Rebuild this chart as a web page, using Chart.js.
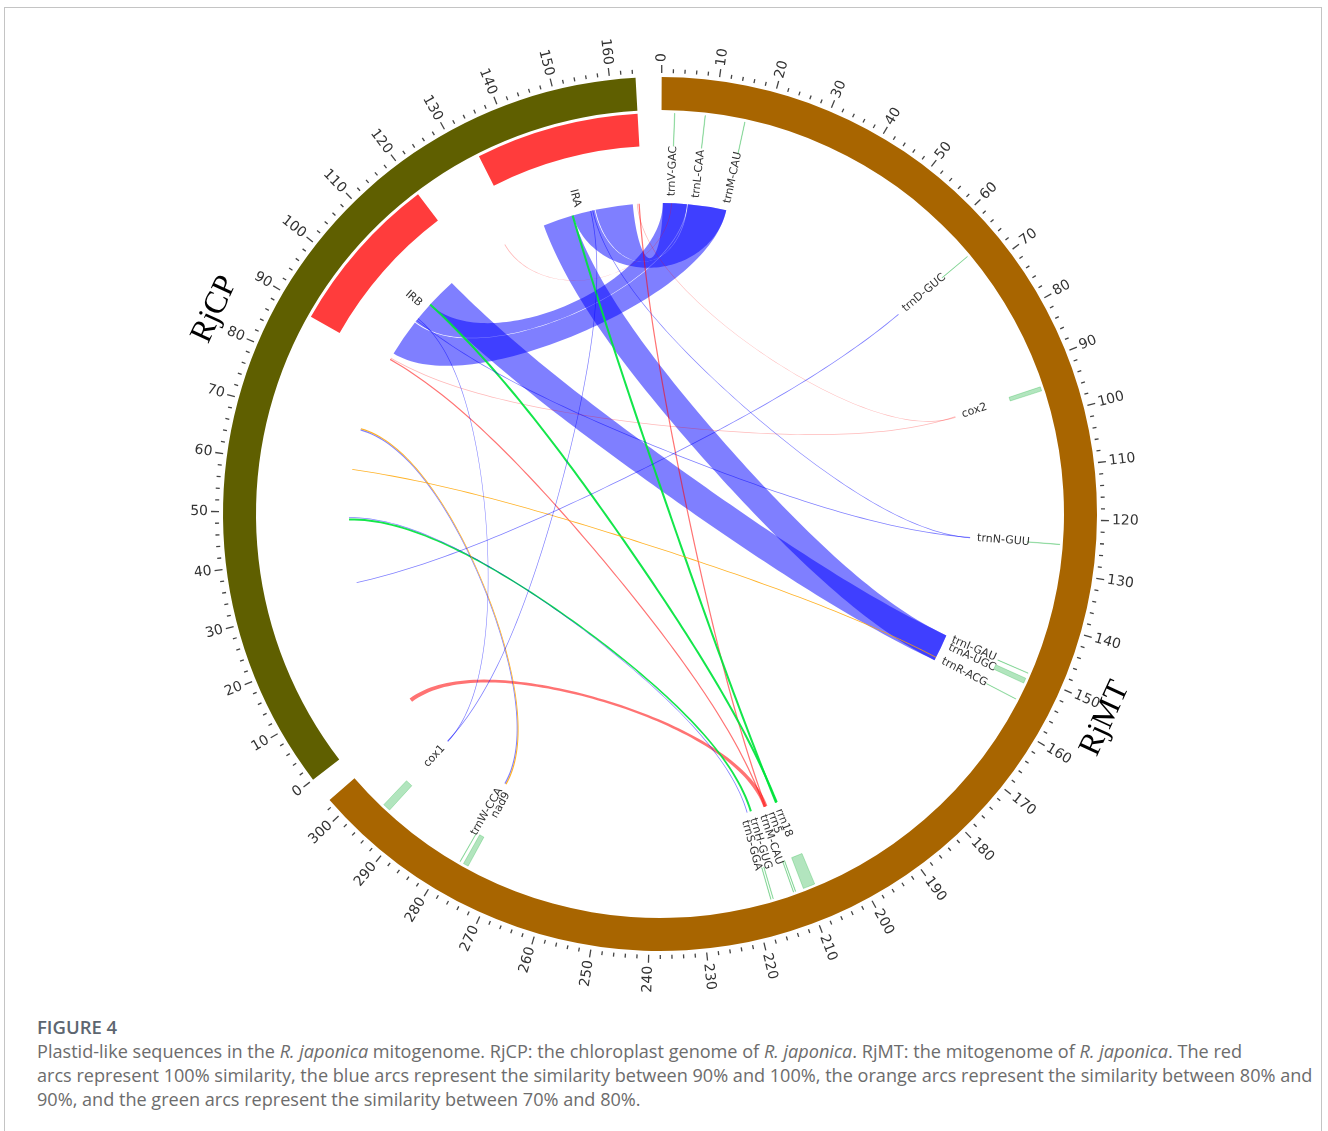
<!DOCTYPE html>
<html>
<head>
<meta charset="utf-8">
<title>Plastid-like sequences in the R. japonica mitogenome</title>
<script src="https://cdn.jsdelivr.net/npm/chart.js@4.4.1/dist/chart.umd.min.js"></script>
<style>
  html, body { margin: 0; padding: 0; background: #fff; }
  body { width: 1328px; height: 1131px; position: relative; overflow: hidden; }
  #frame { position: absolute; left: 4px; top: 7px; width: 1318px; height: 1200px; border: 1px solid #c4c4c4; box-sizing: border-box; }
  #plot { position: absolute; left: 0; top: 0; }
  #caption { position: absolute; left: 37px; top: 1014px; font-family: "Open Sans", sans-serif; color: #6c6c6c; }
  #caption .title { font-size: 18.5px; font-weight: 600; color: #5d6670; line-height: 26px; }
  #caption .text { font-size: 18.1px; line-height: 24px; white-space: nowrap; margin-top: -1px; }
</style>
</head>
<body>
<div id="frame"></div>
<canvas id="plot" width="1328" height="1005"></canvas>
<div id="caption">
  <div class="title">FIGURE 4</div>
  <div class="text">Plastid-like sequences in the <i>R. japonica</i> mitogenome. RjCP: the chloroplast genome of <i>R. japonica</i>. RjMT: the mitogenome of <i>R. japonica</i>. The red<br>arcs represent 100% similarity, the blue arcs represent the similarity between 90% and 100%, the orange arcs represent the similarity between 80% and<br>90%, and the green arcs represent the similarity between 70% and 80%.</div>
</div>
<script>
// ---- Backbones (kb) ----
const genomeNames = ['RjMT', 'RjCP'];
const genomeLengths = [303.1, 164.5];
const genomeSpacer = 4.54;

// Tick spacing (kb)
const minorTickStep = 2;
const majorTickStep = 10;

// RjCP inverted repeats (kb)
const repeatNames = ['IRB', 'IRA'];
const repeatStarts = [88.6, 133.2];
const repeatEnds = [119.6, 164.5];

// RjMT genes next to the plastid-derived fragments (kb)
const geneNames = ['trnV-GAC', 'trnL-CAA', 'trnM-CAU', 'trnD-GUC', 'cox2', 'trnN-GUU',
  'trnI-GAU', 'trnA-UGC', 'trnR-ACG', 'rrn18', 'rrn5', 'trnM-CAU', 'trnH-GUG', 'trnS-GGA',
  'nad9', 'trnW-CCA', 'cox1'];
const geneStarts = [2.45, 8.25, 15.85, 65.95, 94.4, 124.6,
  149.8, 150.9, 155.2, 208.0, 211.85, 212.25, 216.3, 216.75,
  275.9, 277.6, 294.2];
const geneEnds = [2.53, 8.33, 15.93, 66.03, 95.2, 124.68,
  149.88, 151.9, 155.28, 210.3, 211.93, 212.33, 216.38, 216.83,
  276.9, 277.68, 295.7];

// Homologous fragments: RjCP interval -> RjMT interval (kb), identity class (%)
const linkCpStarts = [90.7, 100.1, 147.2, 152.9, 105.7, 139.7, 0.4, 88.9, 163.5, 89.3, 163.1, 129.0,
  105.4, 146.9, 48.0, 48.6, 70.2, 70.5, 60.4, 32.6, 101.0, 151.6, 100.5, 152.1];
const linkCpEnds = [99.9, 105.6, 152.7, 162.1, 113.1, 147.1, 1.4, 89.2, 163.8, 89.5, 163.3, 129.2,
  105.9, 147.4, 48.5, 48.8, 70.5, 70.8, 60.6, 32.8, 101.2, 151.8, 100.7, 152.3];
const linkMtStarts = [6.5, 0.4, 6.5, 0.4, 149.3, 149.3, 211.3, 211.9, 211.6, 94.6, 94.8, 2.4,
  208.6, 208.8, 215.3, 216.4, 277.5, 277.2, 155.1, 65.9, 294.9, 295.0, 124.5, 124.6];
const linkMtEnds = [16.0, 6.3, 16.0, 6.3, 156.0, 156.0, 212.3, 212.2, 211.9, 94.8, 95.0, 2.6,
  209.1, 209.3, 215.8, 216.6, 277.8, 277.5, 155.3, 66.1, 295.1, 295.2, 124.7, 124.8];
const linkIdentity = [95, 95, 95, 95, 95, 95, 100, 100, 100, 100, 100, 100,
  75, 75, 75, 95, 95, 85, 85, 95, 95, 95, 95, 95];

// ---- Styling ----
const ringColours = ['#a86500', 'rgba(0,0,0,0)', '#5f5f00', 'rgba(0,0,0,0)'];
const repeatColour = '#ff3c3c';
const geneColour = 'rgba(0,170,40,0.3)';
const clear = 'rgba(0,0,0,0)';
const identityColours = {
  100: 'rgba(255,0,0,0.55)',
  95: 'rgba(0,0,255,0.5)',
  85: 'rgba(255,165,0,0.85)',
  75: 'rgba(0,228,60,0.92)'
};
const faintLinks = new Set([9, 10, 11]);
const faintRed = 'rgba(255,0,0,0.28)';

const total = genomeLengths[0] + genomeLengths[1] + 2 * genomeSpacer;
const offsets = [0, genomeLengths[0] + genomeSpacer];

// Inner track: features end to end, with clear fillers between them
const features = [];
repeatStarts.forEach((s, i) => features.push({ g: 1, s, e: repeatEnds[i], c: repeatColour, thin: false }));
geneStarts.forEach((s, i) => features.push({ g: 0, s, e: geneEnds[i], c: geneColour, thin: true }));
features.sort((a, b) => (offsets[a.g] + a.s) - (offsets[b.g] + b.s));
const trackData = [], trackFill = [], trackEdge = [];
let cursor = 0;
for (const f of features) {
  const s = offsets[f.g] + f.s, e = offsets[f.g] + f.e;
  if (s > cursor) { trackData.push(s - cursor); trackFill.push(clear); trackEdge.push(0); }
  trackData.push(e - s); trackFill.push(f.c); trackEdge.push(f.thin ? 0.8 : 0);
  cursor = e;
}
if (cursor < total) { trackData.push(total - cursor); trackFill.push(clear); trackEdge.push(0); }

// Link curves: quartic Bezier (end, crest point, bezier point, crest point, end).
// Ribbons that span close to a diameter keep their width along the centre line.
const CREST = 0.6;
const BEZIER_KEEP = 0.74;
const TICK_FONT = '14px "DejaVu Sans"';
const GENE_FONT = '11px "DejaVu Sans"';
const NAME_FONT = '32px "Liberation Serif"';

function spread(items, minSep) {
  for (let it = 0; it < 300; it++) {
    let moved = false;
    for (let i = 1; i < items.length; i++) {
      const d = items[i].a - items[i - 1].a;
      if (d < minSep) {
        const push = (minSep - d) / 2 + 1e-6;
        items[i].a += push; items[i - 1].a -= push; moved = true;
      }
    }
    if (!moved) break;
  }
}

const circosPlugin = {
  id: 'circos',
  afterDatasetsDraw(chart) {
    const c = chart.ctx;
    const ring = chart.getDatasetMeta(0).data;
    const track = chart.getDatasetMeta(2).data;
    const cx = ring[0].x, cy = ring[0].y;
    const rOut = ring[0].outerRadius;
    const rTrackIn = track[0].innerRadius;
    const rLink = rTrackIn - 57;
    const rLabel = rTrackIn - 50;
    const segs = [ring[0], ring[2]];
    const ang = (g, kb) => segs[g].startAngle + (segs[g].endAngle - segs[g].startAngle) * kb / genomeLengths[g];
    const P = (r, a) => [cx + r * Math.cos(a), cy + r * Math.sin(a)];
    const V = (a) => [rLink * Math.cos(a), rLink * Math.sin(a)];
    const isRight = (a) => {
      let cw = (a + Math.PI / 2) % (2 * Math.PI);
      if (cw < 0) cw += 2 * Math.PI;
      return cw <= Math.PI;
    };
    // quartic curve between two angles (coordinates relative to centre)
    const curve = (a, b) => {
      const p0 = V(a), p4 = V(b);
      const m = [(p0[0] + p4[0]) / 2, (p0[1] + p4[1]) / 2];
      const rb = BEZIER_KEEP * Math.hypot(m[0], m[1]);
      const s = 1 - CREST * (1 - rb / rLink);
      const pts = [p0, [p0[0] * s, p0[1] * s], [m[0] * BEZIER_KEEP, m[1] * BEZIER_KEEP], [p4[0] * s, p4[1] * s], p4];
      return (t) => {
        const u = 1 - t;
        const w = [u * u * u * u, 4 * t * u * u * u, 6 * t * t * u * u, 4 * t * t * t * u, t * t * t * t];
        let x = 0, y = 0;
        for (let j = 0; j < 5; j++) { x += w[j] * pts[j][0]; y += w[j] * pts[j][1]; }
        return [x, y];
      };
    };
    const sepDeg = (a, b) => {
      let d = Math.abs(a - b) % (2 * Math.PI);
      if (d > Math.PI) d = 2 * Math.PI - d;
      return d * 180 / Math.PI;
    };
    const N = 80;

    // links
    c.save();
    linkCpStarts.forEach((_, i) => {
      const a1 = ang(1, linkCpStarts[i]), a2 = ang(1, linkCpEnds[i]);
      const b1 = ang(0, linkMtStarts[i]), b2 = ang(0, linkMtEnds[i]);
      const ac = (a1 + a2) / 2, bc = (b1 + b2) / 2;
      const mid = curve(ac, bc);
      const e1 = curve(a2, b1), e2 = curve(a1, b2);
      const lam = Math.max(0, Math.min(1, (140 - sepDeg(ac, bc)) / 50));
      const pac = V(ac), pbc = V(bc);
      const off = (p, q) => [p[0] - q[0], p[1] - q[1]];
      const oa1 = off(V(a1), pac), oa2 = off(V(a2), pac), ob1 = off(V(b1), pbc), ob2 = off(V(b2), pbc);
      const pointAt = (edge, t, oa, ob) => {
        const q = mid(t), r = edge(t);
        const bx = q[0] + (1 - t) * oa[0] + t * ob[0], by = q[1] + (1 - t) * oa[1] + t * ob[1];
        return [cx + lam * r[0] + (1 - lam) * bx, cy + lam * r[1] + (1 - lam) * by];
      };
      const pa1 = P(rLink, a1);
      c.beginPath();
      c.moveTo(pa1[0], pa1[1]);
      c.arc(cx, cy, rLink, a1, a2, false);
      for (let k = 1; k <= N; k++) { const p = pointAt(e1, k / N, oa2, ob1); c.lineTo(p[0], p[1]); }
      c.arc(cx, cy, rLink, b1, b2, false);
      for (let k = 1; k <= N; k++) { const p = pointAt(e2, 1 - k / N, oa1, ob2); c.lineTo(p[0], p[1]); }
      c.closePath();
      c.fillStyle = faintLinks.has(i) ? faintRed : identityColours[linkIdentity[i]];
      c.fill();
    });
    c.restore();

    // ticks and tick labels
    c.save();
    c.strokeStyle = '#444';
    c.lineWidth = 1.3;
    c.fillStyle = '#333';
    c.font = TICK_FONT;
    c.textBaseline = 'middle';
    genomeLengths.forEach((len, g) => {
      for (let kb = 0; kb <= len + 1e-9; kb += minorTickStep) {
        const a = ang(g, kb);
        const major = kb % majorTickStep === 0;
        const p0 = P(rOut + 4, a), p1 = P(rOut + (major ? 12 : 8), a);
        c.beginPath(); c.moveTo(p0[0], p0[1]); c.lineTo(p1[0], p1[1]); c.stroke();
        if (major) {
          c.save();
          c.translate(cx, cy);
          if (isRight(a)) { c.rotate(a); c.textAlign = 'left'; c.fillText(String(kb), rOut + 15, 0); }
          else { c.rotate(a + Math.PI); c.textAlign = 'right'; c.fillText(String(kb), -(rOut + 15), 0); }
          c.restore();
        }
      }
    });
    c.restore();

    // backbone names
    c.save();
    c.font = NAME_FONT;
    c.fillStyle = '#000';
    c.textAlign = 'center';
    c.textBaseline = 'middle';
    segs.forEach((s, g) => {
      const a = (s.startAngle + s.endAngle) / 2;
      const p = P(rOut + 53, a);
      c.save();
      c.translate(p[0], p[1]);
      const cwTop = a + Math.PI / 2;
      c.rotate(isRight(a) ? cwTop - Math.PI : cwTop);
      c.fillText(genomeNames[g], 0, 0);
      c.restore();
    });
    c.restore();

    // feature labels
    const labels = [[], []];
    geneNames.forEach((n, i) => labels[0].push({ t: n, a: ang(0, (geneStarts[i] + geneEnds[i]) / 2) }));
    repeatNames.forEach((n, i) => labels[1].push({ t: n, a: ang(1, (repeatStarts[i] + repeatEnds[i]) / 2) }));
    c.save();
    c.font = GENE_FONT;
    c.fillStyle = '#333';
    c.textBaseline = 'middle';
    labels.forEach(list => {
      list.sort((x, y) => x.a - y.a);
      spread(list, 1.5 * Math.PI / 180);
      list.forEach(l => {
        c.save();
        c.translate(cx, cy);
        if (isRight(l.a)) { c.rotate(l.a); c.textAlign = 'left'; c.fillText(l.t, rLabel, 0); }
        else { c.rotate(l.a + Math.PI); c.textAlign = 'right'; c.fillText(l.t, -rLabel, 0); }
        c.restore();
      });
    });
    c.restore();
  }
};

new Chart(document.getElementById('plot').getContext('2d'), {
  type: 'doughnut',
  data: {
    labels: ['RjMT', '', 'RjCP', ''],
    datasets: [
      { data: [genomeLengths[0], genomeSpacer, genomeLengths[1], genomeSpacer], backgroundColor: ringColours, borderWidth: 0, weight: 33, hoverOffset: 0 },
      { data: [total], backgroundColor: [clear], borderWidth: 0, weight: 3, hoverOffset: 0 },
      { data: trackData, backgroundColor: trackFill, borderColor: trackFill, borderWidth: trackEdge, weight: 33, hoverOffset: 0 }
    ]
  },
  options: {
    responsive: false,
    animation: false,
    devicePixelRatio: 1,
    events: [],
    rotation: 0.22,
    cutout: 368,
    layout: { padding: { left: 223, right: 231, top: 77, bottom: 54 } },
    plugins: { legend: { display: false }, tooltip: { enabled: false } }
  },
  plugins: [circosPlugin]
});
</script>
</body>
</html>
